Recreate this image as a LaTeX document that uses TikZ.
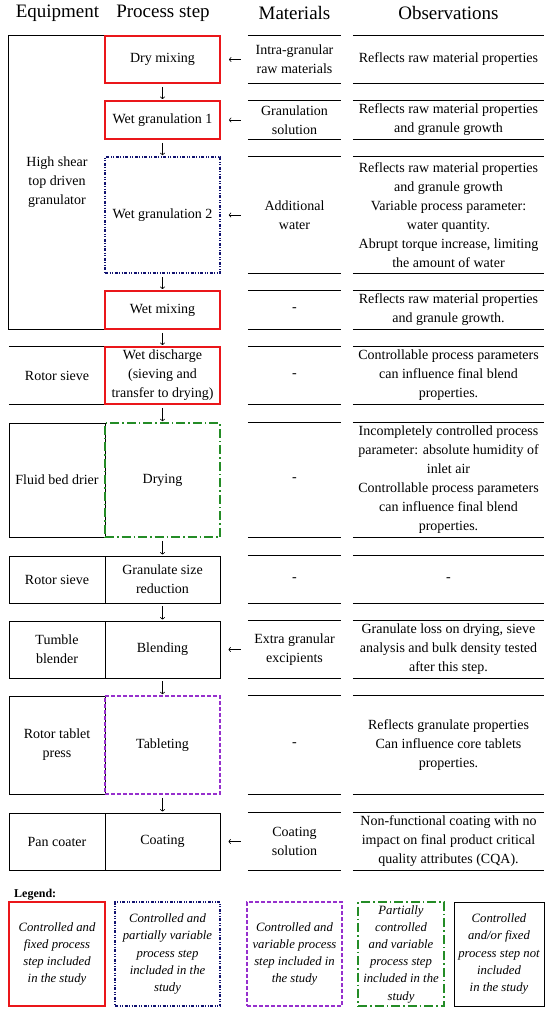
\documentclass[tikz,border=0pt]{standalone}
\usepackage{fontspec}
\setmainfont{Liberation Serif}
\usetikzlibrary{arrows.meta}
\definecolor{stepred}{RGB}{234,22,26}
\definecolor{stepblue}{RGB}{16,18,112}
\definecolor{steppurple}{RGB}{150,48,205}
\definecolor{stepgreen}{RGB}{36,140,38}
\tikzset{
    txt/.style={inner sep=0pt, align=center, font=\fontsize{14}{19}\selectfont},
    head/.style={inner sep=0pt, font=\fontsize{19}{22}\selectfont},
    equip/.style={txt, minimum width=96pt},
    proc/.style={txt, minimum width=115pt},
    mat/.style={txt, minimum width=93pt},
    obs/.style={txt, minimum width=191pt},
    rule/.style={line width=0.9pt},
    plain/.style={draw, line width=0.9pt},
    redbox/.style={draw=stepred, line width=1.9pt},
    bluebox/.style={draw=stepblue, line width=1.6pt, dash pattern=on 3pt off 1.5pt on 1pt off 1.5pt on 1pt off 1.5pt},
    greenbox/.style={draw=stepgreen, line width=1.5pt, dash pattern=on 9pt off 3pt on 1.5pt off 3pt},
    purplebox/.style={draw=steppurple, line width=1.5pt, dash pattern=on 4pt off 2pt},
    legtxt/.style={inner sep=0pt, align=center, font=\fontsize{12.7}{17.2}\selectfont\itshape},
    arr/.style={line width=0.6pt, -{To[length=2.5pt,width=5pt]}}
}
\begin{document}
\begin{tikzpicture}[x=1pt, y=-1pt]
\useasboundingbox (0,0) rectangle (550,1013);
% headings
\node[head] (hequip) at (57.5,13) {Equipment};
\node[head] (hproc) at (163,13) {Process step};
\node[head] (hmat) at (294.5,13) {Materials};
\node[head] (hobs) at (448.5,13) {Observations};
% equipment
\node[equip, minimum height=293pt] (hsg) at (57,182.5) {High shear\\top driven\\granulator};
\draw[rule] (hsg.north east) -- (hsg.north west) -- (hsg.south west) -- (hsg.south east);
\node[equip, minimum height=57pt] (sieve1) at (57,375.5) {Rotor sieve};
\draw[rule] (sieve1.north west) -- (sieve1.north east) (sieve1.south west) -- (sieve1.south east);
\node[equip, plain, minimum height=114pt] (drier) at (57,480) {Fluid bed drier};
\node[equip, plain, minimum height=47pt] (sieve2) at (57,579.5) {Rotor sieve};
\node[equip, plain, minimum height=57pt] (blender) at (57,649.5) {Tumble\\blender};
\node[equip, plain, minimum height=98pt] (press) at (57,745) {Rotor tablet\\press};
\node[equip, plain, minimum height=57pt] (coater) at (57,841.5) {Pan coater};
% process steps
\node[proc, redbox, minimum height=47pt] (dry) at (162.5,59.5) {Dry mixing};
\node[proc, redbox, minimum height=38pt] (wetgran1) at (162.5,120) {Wet granulation 1};
\node[proc, bluebox, minimum height=116pt] (wetgran2) at (162.5,215) {Wet granulation 2};
\node[proc, redbox, minimum height=38pt] (wetmix) at (162.5,310) {Wet mixing};
\node[proc, redbox, minimum height=57pt] (discharge) at (162.5,375.5) {Wet discharge\\(sieving and\\transfer to drying)};
\node[proc, greenbox, minimum height=114pt] (drying) at (162.5,480) {Drying};
\node[proc, plain, minimum height=47pt] (sizered) at (162.5,579.5) {Granulate size\\reduction};
\node[proc, plain, minimum height=57pt] (blending) at (162.5,649.5) {Blending};
\node[proc, purplebox, minimum height=98pt] (tableting) at (162.5,745) {Tableting};
\node[proc, plain, minimum height=57pt] (coating) at (162.5,841.5) {Coating};
% materials
\node[mat, minimum height=47pt] (m1) at (294.5,59.5) {Intra-granular\\raw materials};
\node[mat, minimum height=38pt] (m2) at (294.5,120) {Granulation\\solution};
\node[mat, minimum height=116pt] (m3) at (294.5,215) {Additional\\water};
\node[mat, minimum height=38pt] (m4) at (294.5,310) {-};
\node[mat, minimum height=57pt] (m5) at (294.5,375.5) {-};
\node[mat, minimum height=114pt] (m6) at (294.5,480) {-};
\node[mat, minimum height=47pt] (m7) at (294.5,579.5) {-};
\node[mat, minimum height=57pt] (m8) at (294.5,649.5) {Extra granular\\excipients};
\node[mat, minimum height=98pt] (m9) at (294.5,745) {-};
\node[mat, minimum height=57pt] (m10) at (294.5,841.5) {Coating\\solution};
% observations
\node[obs, minimum height=47pt] (o1) at (448.5,59.5) {Reflects raw material properties};
\node[obs, minimum height=38pt] (o2) at (448.5,120) {Reflects raw material properties\\and granule growth};
\node[obs, minimum height=116pt] (o3) at (448.5,215) {Reflects raw material properties\\and granule growth\\Variable process parameter:\\water quantity.\\Abrupt torque increase, limiting\\the amount of water};
\node[obs, minimum height=38pt] (o4) at (448.5,310) {Reflects raw material properties\\and granule growth.};
\node[obs, minimum height=57pt] (o5) at (448.5,375.5) {Controllable process parameters\\can influence final blend\\properties.};
\node[obs, minimum height=114pt] (o6) at (448.5,480) {Incompletely controlled process\\parameter: absolute humidity of\\inlet air\\Controllable process parameters\\can influence final blend\\properties.};
\node[obs, minimum height=47pt] (o7) at (448.5,579.5) {-};
\node[obs, minimum height=57pt] (o8) at (448.5,649.5) {Granulate loss on drying, sieve\\analysis and bulk density tested\\after this step.};
\node[obs, minimum height=98pt] (o9) at (448.5,745) {Reflects granulate properties\\Can influence core tablets\\properties.};
\node[obs, minimum height=57pt] (o10) at (448.5,841.5) {Non-functional coating with no\\impact on final product critical\\quality attributes (CQA).};
\foreach \n in {1,...,10} {
    \draw[rule] (m\n.north west) -- (m\n.north east) (m\n.south west) -- (m\n.south east);
    \draw[rule] (o\n.north west) -- (o\n.north east) (o\n.south west) -- (o\n.south east);
}
% arrows
\foreach \a/\b in {dry/wetgran1, wetgran1/wetgran2, wetgran2/wetmix, wetmix/discharge, discharge/drying, drying/sizered, sizered/blending, blending/tableting, tableting/coating}
    \draw[arr, shorten <=3pt, shorten >=1pt] (\a) -- (\b);
\foreach \m/\p in {m1/dry, m2/wetgran1, m3/wetgran2, m8/blending, m10/coating}
    \draw[arr, shorten <=7pt, shorten >=8pt] (\m) -- (\p);
% legend
\node[anchor=west, inner sep=0pt, font=\fontsize{12}{14}\selectfont\bfseries] (legend) at (14,895) {Legend:};
\node[legtxt, redbox, minimum width=96pt, minimum height=104pt] (leg1) at (57,954) {Controlled and\\fixed process\\step included\\in the study};
\node[legtxt, bluebox, minimum width=105pt, minimum height=104pt] (leg2) at (167.5,954) {Controlled and\\partially variable\\process step\\included in the\\study};
\node[legtxt, purplebox, minimum width=95pt, minimum height=104pt] (leg3) at (294.5,954) {Controlled and\\variable process\\step included in\\the study};
\node[legtxt, greenbox, minimum width=86pt, minimum height=104pt] (leg4) at (401,954) {Partially\\controlled\\and variable\\process step\\included in the\\study};
\node[legtxt, plain, minimum width=90pt, minimum height=104pt] (leg5) at (499,954) {Controlled\\and/or fixed\\process step not\\included\\in the study};
\end{tikzpicture}
\end{document}
